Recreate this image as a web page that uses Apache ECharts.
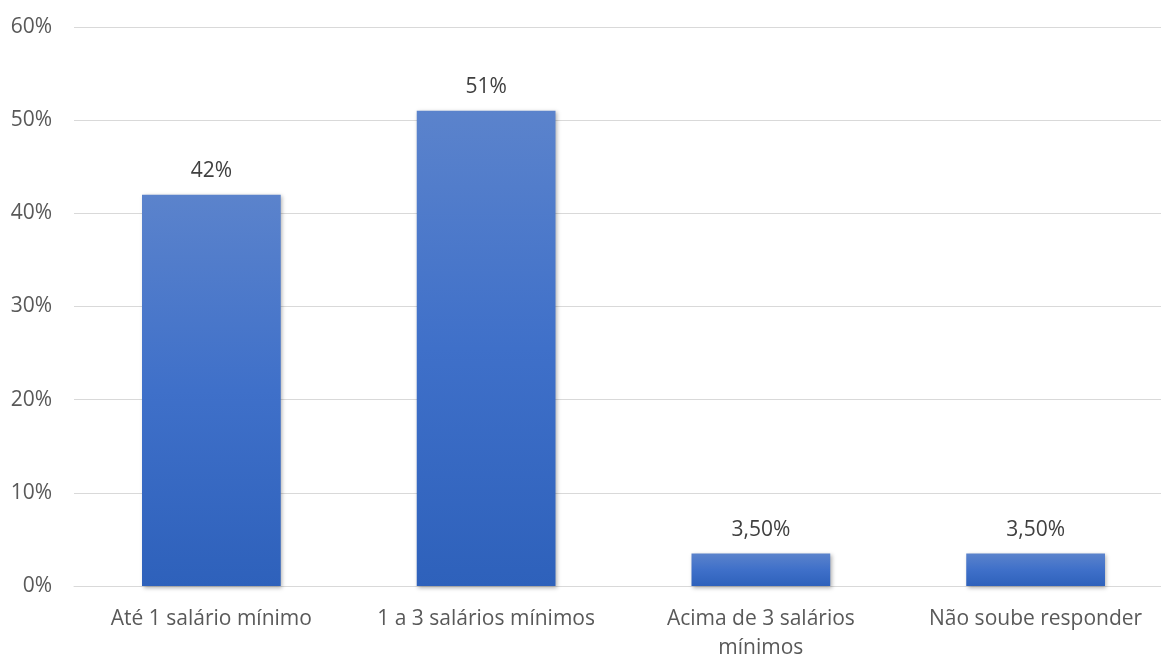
<!DOCTYPE html>
<html><head><meta charset="utf-8">
<script src="https://cdn.jsdelivr.net/npm/echarts@6/dist/echarts.min.js"></script>
<style>html,body{margin:0;padding:0;background:#fff}#c{width:1161px;height:654px}</style>
</head><body><div id="c"></div>
<script>
const categories = ["Até 1 salário mínimo", "1 a 3 salários mínimos", "Acima de 3 salários\nmínimos", "Não soube responder"];
const values = [42, 51, 3.5, 3.5];
const valueLabels = ["42%", "51%", "3,50%", "3,50%"];
const yTicks = [0, 10, 20, 30, 40, 50, 60];

const chart = echarts.init(document.getElementById('c'));
const font = '"Open Sans", "Liberation Sans", sans-serif';
chart.setOption({
  animation: false,
  grid: {left: 74, top: 27, right: -12, bottom: 68, outerBoundsMode: 'none', containLabel: false},
  xAxis: {
    type: 'category', data: categories,
    axisTick: {show: false},
    axisLine: {lineStyle: {color: '#d9d9d9', width: 1}},
    axisLabel: {color: '#595959', fontSize: 21, fontFamily: font, margin: 19, lineHeight: 29, interval: 0}
  },
  yAxis: {
    type: 'value', min: yTicks[0], max: yTicks[yTicks.length-1], interval: 10,
    axisLine: {show: false}, axisTick: {show: false},
    splitLine: {lineStyle: {color: '#d9d9d9', width: 1}},
    axisLabel: {color: '#595959', fontSize: 21, fontFamily: font, margin: 22, formatter: v => v + '%'}
  },
  series: [{
    type: 'bar', data: values, barWidth: '50.5%',
    itemStyle: {
      color: new echarts.graphic.LinearGradient(0, 0, 0, 1, [
        {offset: 0, color: '#5b83cc'}, {offset: 0.5, color: '#3f70c9'}, {offset: 1, color: '#2e61bb'}
      ]),
      shadowBlur: 4, shadowColor: 'rgba(0,0,0,0.3)', shadowOffsetX: 1.5, shadowOffsetY: 1.5
    },
    label: {
      show: true, position: 'top', distance: 13, color: '#404040', fontSize: 21, fontFamily: font,
      formatter: p => valueLabels[p.dataIndex]
    }
  }]
});
</script></body></html>
